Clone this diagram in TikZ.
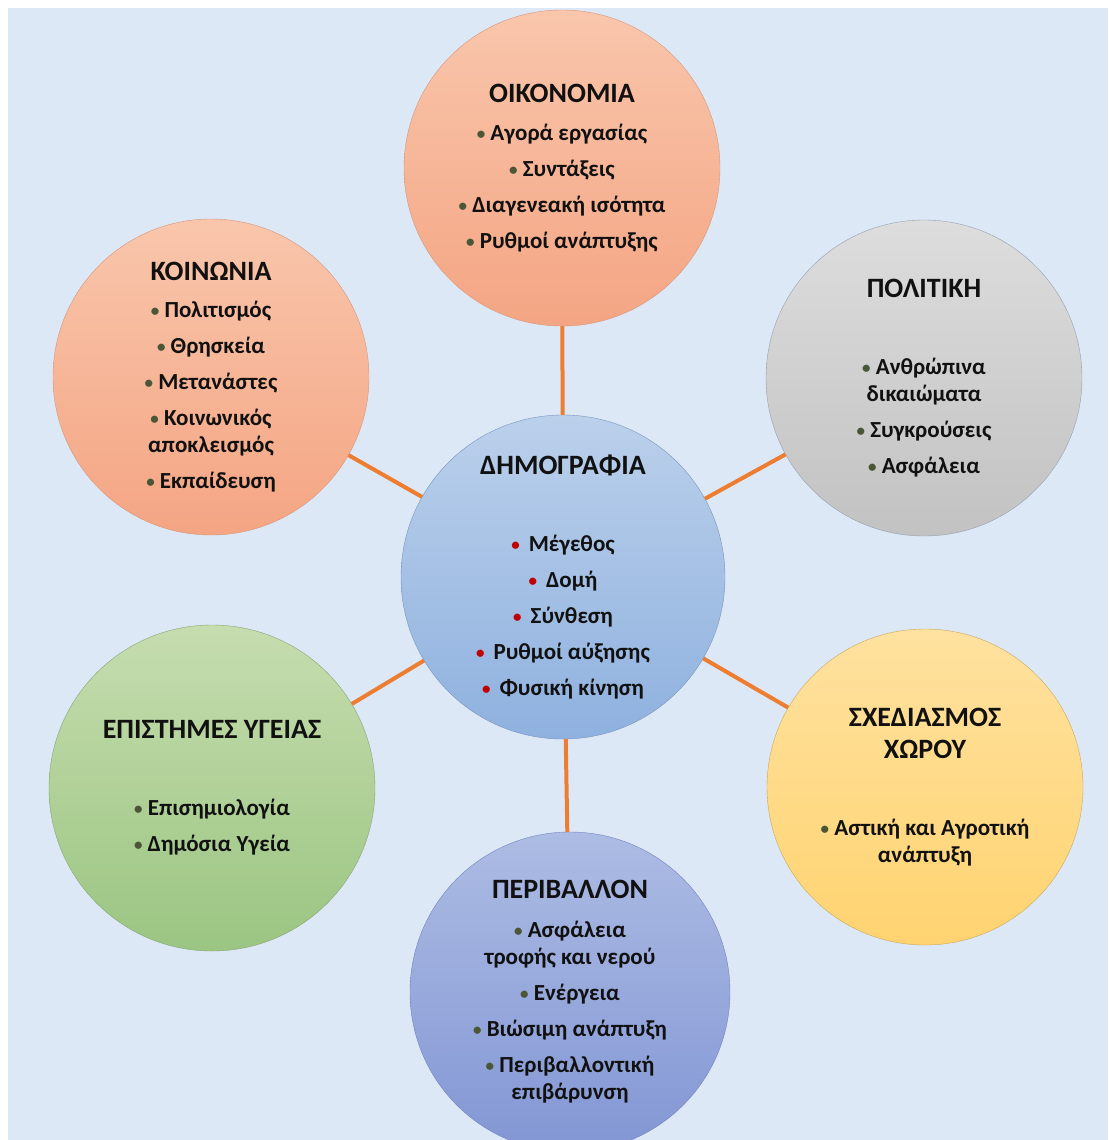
\documentclass[tikz,border=0pt]{standalone}
\usepackage{fontspec}
\setmainfont{Carlito}
\definecolor{pagebg}{HTML}{DDE8F6}
\definecolor{txt}{HTML}{111111}
\definecolor{dotgreen}{HTML}{4A5636}
\definecolor{dotred}{HTML}{C00000}
\definecolor{linkor}{HTML}{ED7D31}
\newcommand{\ttl}[1]{{\fontsize{28}{27}\selectfont #1}}
\newcommand{\gdot}{{\color{dotgreen}\fontsize{17}{17}\selectfont\raisebox{1pt}{•}}\ }
\newcommand{\rdot}{{\color{dotred}\fontsize{17}{17}\selectfont\raisebox{1pt}{•}}\ \,}
\tikzset{
    bubble/.style={circle, inner sep=0pt, align=center, text=txt,
                   font=\bfseries\fontsize{23}{27}\selectfont},
    peach/.style={bubble, top color={rgb,255:red,249;green,198;blue,172}, bottom color={rgb,255:red,244;green,165;blue,131}, draw={rgb,255:red,214;green,150;blue,122}},
    silver/.style={bubble, top color={rgb,255:red,221;green,221;blue,221}, bottom color={rgb,255:red,194;green,194;blue,194}, draw={rgb,255:red,150;green,160;blue,175}},
    sand/.style={bubble, top color={rgb,255:red,255;green,226;blue,160}, bottom color={rgb,255:red,255;green,211;blue,112}, draw={rgb,255:red,200;green,168;blue,94}},
    sage/.style={bubble, top color={rgb,255:red,198;green,221;blue,175}, bottom color={rgb,255:red,155;green,197;blue,130}, draw={rgb,255:red,134;green,166;blue,116}},
    sky/.style={bubble, top color={rgb,255:red,187;green,208;blue,235}, bottom color={rgb,255:red,143;green,177;blue,223}, draw={rgb,255:red,121;green,148;blue,188}},
    lilac/.style={bubble, top color={rgb,255:red,173;green,188;blue,228}, bottom color={rgb,255:red,130;green,150;blue,212}, draw={rgb,255:red,116;green,132;blue,189}},
    link/.style={draw=linkor, line width=4pt}
}

\begin{document}
\begin{tikzpicture}[x=1pt, y=-1pt]
  \useasboundingbox (0,0) rectangle (1108,1140);
  \fill[white] (0,0) rectangle (1108,1140);
  \fill[pagebg] (8,8) rectangle (1108,1140);

  % centre
  \node [sky, minimum size=324pt] (dem) at (563,577)
    {\ttl{ΔΗΜΟΓΡΑΦΙΑ}\\[50pt]
     \rdot Μέγεθος\\[9pt] \rdot Δομή\\[9pt] \rdot Σύνθεση\\[9pt]
     \rdot Ρυθμοί αύξησης\\[9pt] \rdot Φυσική κίνηση};

  % around it
  \node [peach, minimum size=316pt] (oik) at (562,168)
    {\ttl{ΟΙΚΟΝΟΜΙΑ}\\[11pt]
     \gdot Αγορά εργασίας\\[9pt] \gdot Συντάξεις\\[9pt]
     \gdot Διαγενεακή ισότητα\\[9pt] \gdot Ρυθμοί ανάπτυξης};
  \node [peach, minimum size=316pt] (koin) at (211,377)
    {\ttl{ΚΟΙΝΩΝΙΑ}\\[10pt]
     \gdot Πολιτισμός\\[9pt] \gdot Θρησκεία\\[9pt] \gdot Μετανάστες\\[9pt]
     \gdot Κοινωνικός\\ αποκλεισμός\\[9pt] \gdot Εκπαίδευση};
  \node [silver, minimum size=316pt] (pol) at (924,378)
    {\ttl{ΠΟΛΙΤΙΚΗ}\\[50pt]
     \gdot Ανθρώπινα\\ δικαιώματα\\[9pt] \gdot Συγκρούσεις\\[9pt] \gdot Ασφάλεια};
  \node [sage, minimum size=326pt] (epi) at (212,788)
    {\ttl{ΕΠΙΣΤΗΜΕΣ ΥΓΕΙΑΣ}\\[50pt]
     \gdot Επισημιολογία\\[9pt] \gdot Δημόσια Υγεία};
  \node [sand, minimum size=316pt] (sxe) at (925,787)
    {\ttl{ΣΧΕΔΙΑΣΜΟΣ}\\[5pt] \ttl{ΧΩΡΟΥ}\\[50pt]
     \gdot Αστική και Αγροτική\\ ανάπτυξη};
  \node [lilac, minimum size=320pt] (per) at (570,992)
    {\ttl{ΠΕΡΙΒΑΛΛΟΝ}\\[12pt]
     \gdot Ασφάλεια\\ τροφής και νερού\\[9pt] \gdot Ενέργεια\\[9pt]
     \gdot Βιώσιμη ανάπτυξη\\[9pt] \gdot Περιβαλλοντική\\ επιβάρυνση};

  % spokes
  \foreach \n in {oik,koin,pol,epi,sxe,per}
    \draw [link] (dem) -- (\n);
\end{tikzpicture}
\end{document}
